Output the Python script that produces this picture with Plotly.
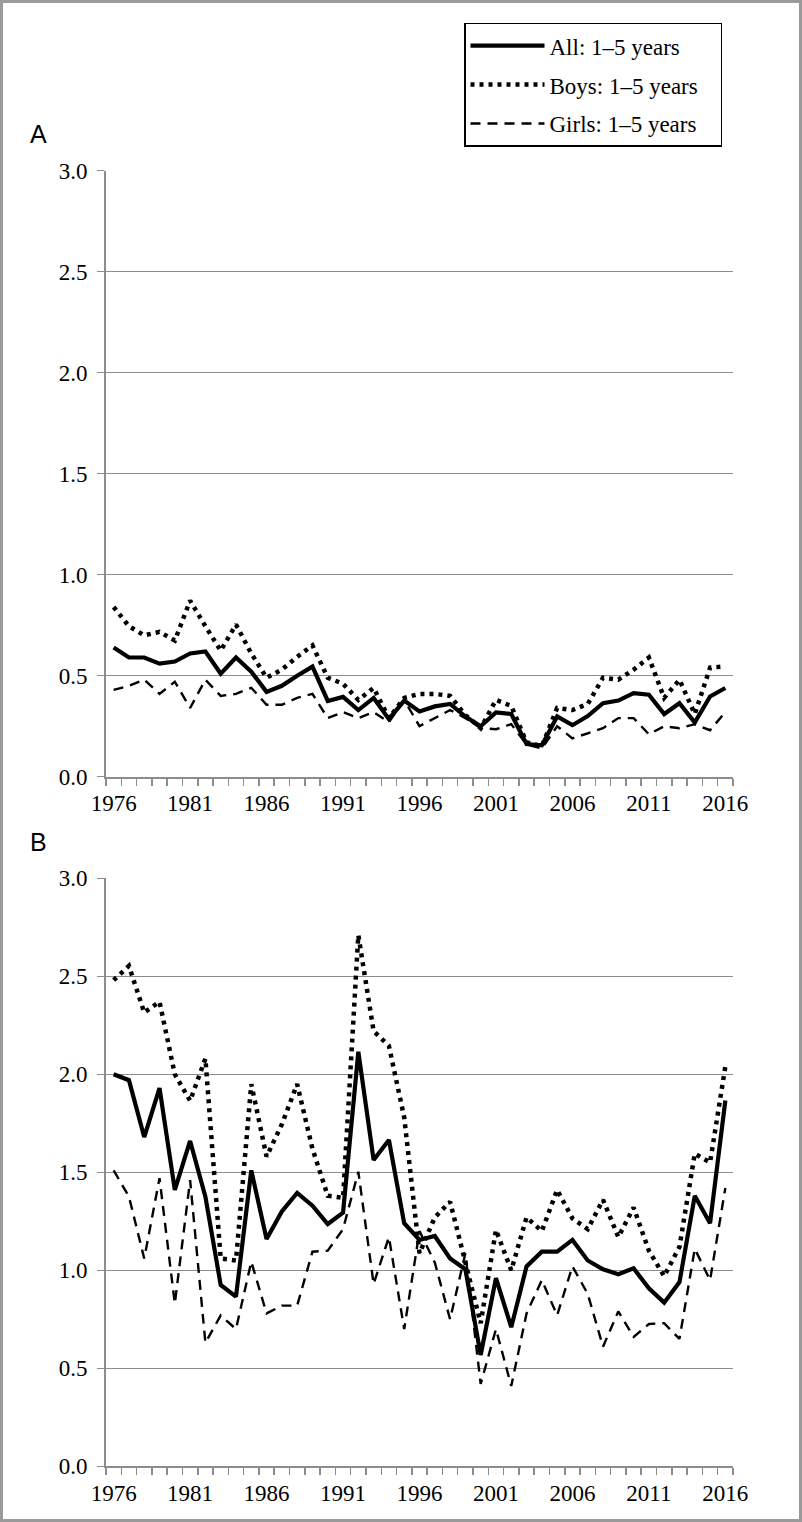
import plotly.graph_objects as go

W, H = 802, 1522

years = list(range(1976, 2017))
tick_years = [1976, 1981, 1986, 1991, 1996, 2001, 2006, 2011, 2016]

a_all = [0.64, 0.59, 0.59, 0.56, 0.57, 0.61, 0.62, 0.51, 0.59, 0.52,
         0.42, 0.45, 0.50, 0.545, 0.375, 0.395, 0.33, 0.39, 0.285, 0.377,
         0.323, 0.348, 0.36, 0.298, 0.25, 0.318, 0.31, 0.162, 0.155, 0.298,
         0.255, 0.30, 0.364, 0.377, 0.414, 0.406, 0.31, 0.364, 0.268, 0.397,
         0.439]
a_boys = [0.84, 0.745, 0.70, 0.717, 0.674, 0.872, 0.745, 0.624, 0.753, 0.61,
          0.49, 0.53, 0.593, 0.65, 0.49, 0.46, 0.38, 0.44, 0.29, 0.39,
          0.41, 0.41, 0.40, 0.305, 0.24, 0.38, 0.35, 0.17, 0.15, 0.34,
          0.33, 0.36, 0.49, 0.48, 0.53, 0.59, 0.39, 0.48, 0.31, 0.54,
          0.546]
a_girls = [0.43, 0.45, 0.48, 0.41, 0.47, 0.34, 0.48, 0.40, 0.41, 0.44,
           0.356, 0.356, 0.39, 0.41, 0.29, 0.32, 0.29, 0.32, 0.27, 0.38,
           0.25, 0.29, 0.33, 0.29, 0.24, 0.235, 0.26, 0.16, 0.14, 0.25,
           0.19, 0.215, 0.24, 0.29, 0.29, 0.21, 0.25, 0.24, 0.26, 0.23,
           0.32]

b_all = [2.00, 1.97, 1.68, 1.93, 1.41, 1.66, 1.376, 0.925, 0.866, 1.51,
         1.16, 1.30, 1.395, 1.33, 1.236, 1.294, 2.115, 1.563, 1.665, 1.24,
         1.155, 1.175, 1.06, 1.005, 0.568, 0.96, 0.71, 1.02, 1.095, 1.095,
         1.155, 1.05, 1.005, 0.98, 1.01, 0.908, 0.835, 0.94, 1.38, 1.24,
         1.866]
b_boys = [2.48, 2.553, 2.315, 2.37, 2.00, 1.865, 2.08, 1.06, 1.05, 1.95,
          1.58, 1.745, 1.95, 1.62, 1.38, 1.37, 2.71, 2.22, 2.145, 1.78,
          1.087, 1.27, 1.35, 1.03, 0.73, 1.206, 1.00, 1.27, 1.20, 1.41,
          1.265, 1.21, 1.36, 1.17, 1.32, 1.10, 0.97, 1.12, 1.595, 1.55,
          2.04]
b_girls = [1.51, 1.376, 1.06, 1.47, 0.83, 1.46, 0.63, 0.77, 0.70, 1.044,
           0.78, 0.82, 0.82, 1.095, 1.10, 1.21, 1.503, 0.93, 1.17, 0.70,
           1.20, 1.04, 0.75, 1.087, 0.42, 0.70, 0.41, 0.78, 0.95, 0.77,
           1.02, 0.88, 0.61, 0.79, 0.66, 0.726, 0.73, 0.65, 1.11, 0.95,
           1.42]

series_names = ["All: 1\u20135 years", "Boys: 1\u20135 years", "Girls: 1\u20135 years"]
PAD = "\u00a0\u00a0\u00a0"
styles = [
    dict(color="black", width=4.2, dash="solid"),
    dict(color="black", width=4.5, dash="4px,5px"),
    dict(color="black", width=2.4, dash="10px,7px"),
]

fig = go.Figure()
for k, (name, ys) in enumerate(zip(series_names, [a_all, a_boys, a_girls])):
    fig.add_trace(go.Scatter(x=years, y=ys, mode="lines", name=name + PAD,
                             line=styles[k], legendgroup=f"g{k}",
                             xaxis="x", yaxis="y", showlegend=True))
for k, (name, ys) in enumerate(zip(series_names, [b_all, b_boys, b_girls])):
    fig.add_trace(go.Scatter(x=years, y=ys, mode="lines", name=name,
                             line=styles[k], legendgroup=f"g{k}",
                             xaxis="x2", yaxis="y2", showlegend=False))

GRID = "#8c8c8c"
FONT = "Liberation Serif"

x_dom = [106 / W, 733 / W]
yA = [1 - 776.7 / H, 1 - 170.7 / H]
yB = [1 - 1466.3 / H, 1 - 878.3 / H]

def xaxis_cfg(anchor):
    return dict(domain=x_dom, anchor=anchor, range=[1975.5, 2016.5],
                automargin=False,
                tickmode="array", tickvals=tick_years, ticks="",
                showline=True, linecolor=GRID, linewidth=2,
                showgrid=False, zeroline=False,
                tickfont=dict(family=FONT, size=23, color="black"),
                ticklabelstandoff=5,
                minor=dict(tickmode="linear", tick0=1975.5, dtick=1,
                           ticks="outside", ticklen=7, tickwidth=1.5,
                           tickcolor=GRID, showgrid=False))

def yaxis_cfg(anchor, dom):
    return dict(domain=dom, anchor=anchor, range=[0, 3],
                automargin=False,
                tickmode="array", tickvals=[0, 0.5, 1, 1.5, 2, 2.5, 3],
                tickformat=".1f", ticks="outside", ticklen=7, tickwidth=1.5,
                tickcolor=GRID, showline=True, linecolor=GRID, linewidth=2,
                showgrid=True, gridcolor=GRID, gridwidth=1.5, zeroline=False,
                tickfont=dict(family=FONT, size=23, color="black"),
                ticklabelstandoff=5)

fig.update_layout(
    template="none",
    width=W, height=H,
    margin=dict(l=0, r=0, t=0, b=0, pad=0, autoexpand=False),
    paper_bgcolor="white", plot_bgcolor="white",
    font=dict(family=FONT, size=23, color="black"),
    xaxis=xaxis_cfg("y"), yaxis=yaxis_cfg("x", yA),
    xaxis2=xaxis_cfg("y2"), yaxis2=yaxis_cfg("x2", yB),
    legend=dict(x=464 / W, y=1 - 22.7 / H, xanchor="left", yanchor="top",
                bordercolor="black", borderwidth=1.5, bgcolor="white",
                font=dict(family=FONT, size=23, color="black"),
                traceorder="grouped", tracegroupgap=6, itemwidth=74),
    showlegend=True,
    annotations=[
        dict(text="A", x=28 / W, y=1 - 134 / H, xref="paper", yref="paper",
             xanchor="left", yanchor="middle", showarrow=False,
             font=dict(family="Liberation Sans", size=25, color="black")),
        dict(text="B", x=28 / W, y=1 - 842 / H, xref="paper", yref="paper",
             xanchor="left", yanchor="middle", showarrow=False,
             font=dict(family="Liberation Sans", size=25, color="black")),
    ],
    shapes=[dict(type="rect", xref="paper", yref="paper",
                 x0=1.5 / W, x1=1 - 1.5 / W, y0=1.5 / H, y1=1 - 1.5 / H,
                 line=dict(color="#9a9a9a", width=3), fillcolor="rgba(0,0,0,0)",
                 layer="above")],
)

fig.write_html("out.html",
               config={"displayModeBar": False, "staticPlot": True},
               post_script="document.body.style.margin='0';"
                           "document.body.style.overflow='hidden';")
